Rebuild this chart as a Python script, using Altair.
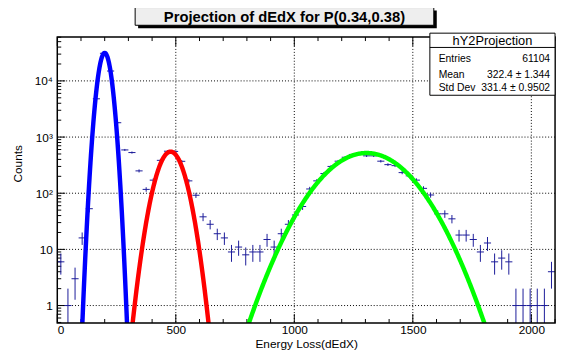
import altair as alt
import numpy as np
import pandas as pd

# ---------------- data ----------------
bin_centers = [15, 45, 75, 105, 135, 165, 195, 225, 255, 285, 315, 345, 375, 405, 435,
               465, 495, 525, 555, 585, 615, 645, 675, 705, 735, 765, 795, 825, 855, 885,
               915, 945, 975, 1005, 1035, 1065, 1095, 1125, 1155, 1185, 1215, 1245, 1275,
               1305, 1335, 1365, 1395, 1425, 1455, 1485, 1515, 1545, 1575, 1605, 1635,
               1665, 1695, 1725, 1755, 1785, 1815, 1845, 1875, 1905, 1935, 1965, 1995,
               2025, 2055, 2085]
counts = [6, 1, 3, 16, 53, 4800, 31000, 15000, 1800, 590, 530, 250, 117, 171, 385,
          560, 555, 370, 166, 92, 38, 28, 19, 16, 9, 11, 8, 9, 9, 15,
          11, 19, 28, 41, 58, 119, 166, 224, 300, 372, 437, 490, 503,
          463, 463, 372, 323, 310, 233, 204, 171, 122, 93, 43, 43,
          35, 18, 18, 15, 9, 13, 6, 7, 6, 1, 1, 1,
          1, 1, 4]
bin_width = 30

fit_names = ["pi", "K", "p"]
fit_amp = [31500, 550, 520]
fit_mean = [200, 478, 1305]
fit_sigma = [20, 42.7, 133]
fit_lo = [60, 260, 700]
fit_hi = [340, 700, 1900]
fit_colors = ["#0000ff", "#ff0000", "#00ff00"]

x_label_values = [0, 500, 1000, 1500, 2000]
x_grid_values = [500, 1000, 1500, 2000]
y_label_values = [1, 10, 100, 1000, 10000]
y_label_texts = ["1", "10", "10²", "10³", "10⁴"]

title_text = "Projection of dEdX for P(0.34,0.38)"
stats_name = "hY2Projection"
stats_labels = ["Entries", "Mean", "Std Dev"]
stats_values = ["61104", "322.4 ± 1.344", "331.4 ± 0.9502"]

x_title = "Energy Loss(dEdX)"
y_title = "Counts"

# ---------------- layout ----------------
W, H = 505, 290
FONT = "Liberation Sans"
X_DOMAIN = [0, 2100]
Y_DOMAIN = [0.49, 60256]

xs = alt.Scale(domain=X_DOMAIN, nice=False, zero=False)
ys = alt.Scale(type="log", domain=Y_DOMAIN, nice=False)

label_expr = " : ".join(
    f"datum.value == {v} ? '{t}'" for v, t in zip(y_label_values, y_label_texts)
) + " : ''"

x_axis = alt.Axis(values=x_label_values, format="d", ticks=False, domain=False, grid=False,
                  labelFont=FONT, labelFontSize=12, labelPadding=2, labelColor="black",
                  title=x_title, titleFont=FONT, titleFontSize=12, titleFontWeight="normal",
                  titleColor="black", titleBaseline="middle", titleY=21)
y_axis = alt.Axis(values=y_label_values, labelExpr=label_expr, ticks=False, domain=False,
                  grid=False, labelFont=FONT, labelFontSize=12, labelPadding=5,
                  labelColor="black",
                  title=y_title, titleFont=FONT, titleFontSize=12, titleFontWeight="normal",
                  titleColor="black", titleX=-40, titleY=128, titleAngle=-90,
                  titleAlign="center", titleBaseline="middle")

one = pd.DataFrame({"d": [0]})

# grid
gx = alt.Chart(pd.DataFrame({"x": x_grid_values})).mark_rule(
    color="black", strokeWidth=1, strokeDash=[1, 2]).encode(
    x=alt.X("x:Q", scale=xs, axis=x_axis))
gy = alt.Chart(pd.DataFrame({"y": y_label_values})).mark_rule(
    color="black", strokeWidth=1, strokeDash=[1, 2]).encode(
    y=alt.Y("y:Q", scale=ys, axis=y_axis))

# ticks (ROOT style, inside the frame)
minor_x = [v for v in range(0, 2101, 100) if v % 500 != 0]
major_x = [v for v in range(0, 2101, 500)]
tick_layers = []
for vals, ln in ((minor_x, 4), (major_x, 9)):
    d = pd.DataFrame({"x": vals})
    tick_layers.append(alt.Chart(d).mark_rule(color="black", strokeWidth=1).encode(
        x=alt.X("x:Q", scale=xs, axis=x_axis), y=alt.value(H), y2=alt.value(H - ln)))
    tick_layers.append(alt.Chart(d).mark_rule(color="black", strokeWidth=1).encode(
        x=alt.X("x:Q", scale=xs, axis=x_axis), y=alt.value(0), y2=alt.value(ln)))
minor_y, major_y = [], []
for dec in range(-1, 5):
    for k in range(1, 10):
        v = k * 10.0 ** dec
        if Y_DOMAIN[0] <= v <= Y_DOMAIN[1]:
            (major_y if k == 1 else minor_y).append(v)
for vals, ln in ((minor_y, 4), (major_y, 8)):
    d = pd.DataFrame({"y": vals})
    tick_layers.append(alt.Chart(d).mark_rule(color="black", strokeWidth=1).encode(
        y=alt.Y("y:Q", scale=ys, axis=y_axis), x=alt.value(0), x2=alt.value(ln)))

# histogram points with error bars
n = np.array(counts, dtype=float)
err = np.sqrt(n)
hist = pd.DataFrame({
    "x": bin_centers,
    "xl": np.array(bin_centers) - bin_width / 2,
    "xh": np.array(bin_centers) + bin_width / 2,
    "y": n,
    "yl": np.maximum(n - err, 0.3),
    "yh": n + err,
})
PT = "#1a1a99"
hbar = alt.Chart(hist).mark_rule(color=PT, strokeWidth=1, clip=True).encode(
    x=alt.X("xl:Q", scale=xs, axis=x_axis), x2="xh:Q",
    y=alt.Y("y:Q", scale=ys, axis=y_axis))
vbar = alt.Chart(hist).mark_rule(color=PT, strokeWidth=1, clip=True).encode(
    x=alt.X("x:Q", scale=xs, axis=x_axis),
    y=alt.Y("yl:Q", scale=ys, axis=y_axis), y2="yh:Q")

# fit curves (Gaussian fit functions)
frames = []
for name, a, m, s, lo, hi in zip(fit_names, fit_amp, fit_mean, fit_sigma, fit_lo, fit_hi):
    xx = np.arange(lo, hi + 0.01, 2.0)
    yy = a * np.exp(-0.5 * ((xx - m) / s) ** 2)
    frames.append(pd.DataFrame({"x": xx, "y": np.maximum(yy, 1e-3), "fit": name}))
fits = pd.concat(frames, ignore_index=True)
fit_layer = alt.Chart(fits).mark_line(strokeWidth=4.5, clip=True).encode(
    x=alt.X("x:Q", scale=xs, axis=x_axis),
    y=alt.Y("y:Q", scale=ys, axis=y_axis),
    color=alt.Color("fit:N", scale=alt.Scale(domain=fit_names, range=fit_colors), legend=None),
    detail="fit:N")

# frame
frame = alt.Chart(one).mark_rect(fillOpacity=0, stroke="black", strokeWidth=1.5).encode(
    x=alt.value(0), x2=alt.value(W), y=alt.value(0), y2=alt.value(H))

# title box
tb = [79, 382, -30, -12]
title_shadow = alt.Chart(one).mark_rect(fill="black").encode(
    x=alt.value(tb[0] + 3), x2=alt.value(tb[1] + 3), y=alt.value(tb[2] + 3), y2=alt.value(tb[3] + 3))
title_box = alt.Chart(one).mark_rect(fill="#eeeeee", stroke="black", strokeWidth=1).encode(
    x=alt.value(tb[0]), x2=alt.value(tb[1]), y=alt.value(tb[2]), y2=alt.value(tb[3]))
title_txt = alt.Chart(one).mark_text(text=title_text, font=FONT, fontSize=15, fontWeight="bold",
                                     align="center", baseline="middle", color="black").encode(
    x=alt.value((tb[0] + tb[1]) / 2), y=alt.value((tb[2] + tb[3]) / 2 + 1))

# stats box
sb = [378, 505, -4, 59]
stats_box = alt.Chart(one).mark_rect(fill="white", stroke="black", strokeWidth=1).encode(
    x=alt.value(sb[0]), x2=alt.value(sb[1]), y=alt.value(sb[2]), y2=alt.value(sb[3]))
stats_div = alt.Chart(one).mark_rule(color="black", strokeWidth=1).encode(
    x=alt.value(sb[0]), x2=alt.value(sb[1]), y=alt.value(10.5))
stats_layers = [stats_box, stats_div,
                alt.Chart(one).mark_text(text=stats_name, font=FONT, fontSize=13,
                                         align="center", baseline="middle", color="black").encode(
                    x=alt.value((sb[0] + sb[1]) / 2), y=alt.value(4))]
row_y = [22.5, 38.5, 52]
for lab, val, ry in zip(stats_labels, stats_values, row_y):
    stats_layers.append(alt.Chart(one).mark_text(text=lab, font=FONT, fontSize=10.5, align="left",
                                                 baseline="middle", color="black").encode(
        x=alt.value(sb[0] + 9), y=alt.value(ry)))
    stats_layers.append(alt.Chart(one).mark_text(text=val, font=FONT, fontSize=10.5, align="right",
                                                 baseline="middle", color="black").encode(
        x=alt.value(sb[1] - 5), y=alt.value(ry)))

chart = alt.layer(
    gx, gy, *tick_layers, hbar, vbar, fit_layer, frame,
    title_shadow, title_box, title_txt, *stats_layers
).properties(
    width=W, height=H,
    autosize=alt.AutoSizeParams(type="none"),
    padding={"left": 50, "top": 27, "right": 3, "bottom": 30},
    background="white",
).configure_view(stroke=None)

chart.save("out.html", embed_options={"renderer": "svg", "actions": False})
